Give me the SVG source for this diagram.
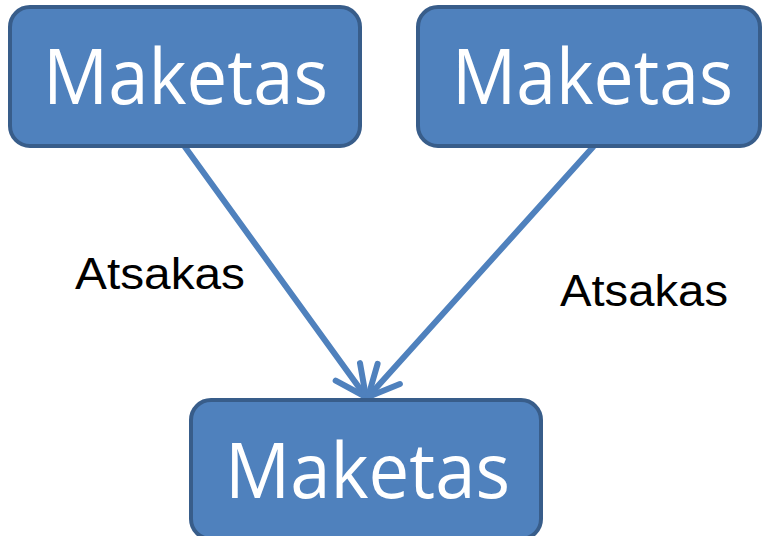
<svg xmlns="http://www.w3.org/2000/svg" width="763" height="536" viewBox="0 0 763 536">
<style>
.box{fill:#4F81BD;stroke:#385D8A;stroke-width:4}
.t{font-family:"Open Sans","Noto Sans",sans-serif;font-size:76px;fill:#fff}
.lbl{font-family:"Liberation Sans",Arial,sans-serif;font-size:44px;fill:#000}
.con{stroke:#4F81BD;stroke-width:6;fill:none;stroke-linecap:round}
</style>
<defs>
<marker id="arr" markerUnits="userSpaceOnUse" markerWidth="50" markerHeight="50" viewBox="-40 -25 50 50" refX="0" refY="0" orient="auto" overflow="visible">
<path d="M -31 -15 L 0 0 L -31 15" fill="none" stroke="#4F81BD" stroke-width="6" stroke-linecap="round" stroke-linejoin="round"/>
</marker>
</defs>
<g id="connectors">
<line class="con" x1="185" y1="147" x2="366" y2="397" marker-end="url(#arr)"/>
<line class="con" x1="593" y1="147" x2="368" y2="397" marker-end="url(#arr)"/>
<text class="lbl" x="75" y="289" textLength="170" lengthAdjust="spacingAndGlyphs">Atsakas</text>
<text class="lbl" x="560" y="306" textLength="168" lengthAdjust="spacingAndGlyphs">Atsakas</text>
</g>
<g id="node1">
<rect class="box" x="10" y="7" width="350" height="139" rx="20"/>
<text class="t" x="43" y="104" textLength="285" lengthAdjust="spacingAndGlyphs">Maketas</text>
</g>
<g id="node2">
<rect class="box" x="418" y="7" width="342" height="139" rx="20"/>
<text class="t" x="452" y="104" textLength="281" lengthAdjust="spacingAndGlyphs">Maketas</text>
</g>
<g id="node3">
<rect class="box" x="191" y="400" width="350" height="139" rx="20"/>
<text class="t" x="225" y="498" textLength="285" lengthAdjust="spacingAndGlyphs">Maketas</text>
</g>
</svg>
